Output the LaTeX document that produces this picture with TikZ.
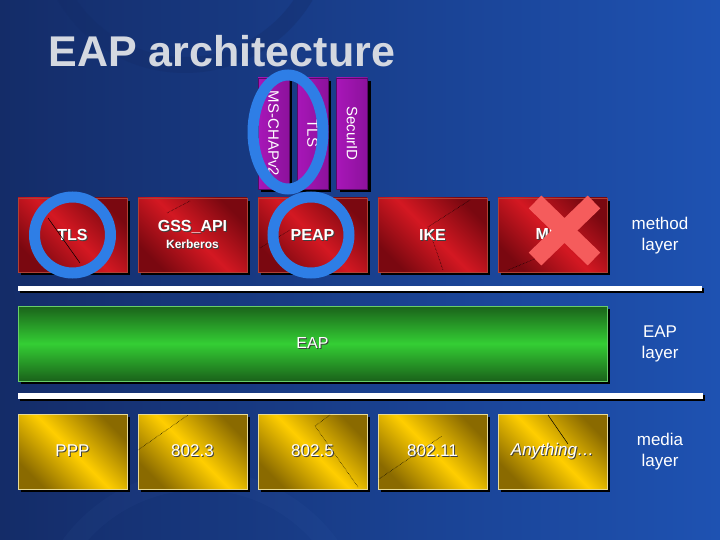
\documentclass[tikz,border=0pt]{standalone}
\usepackage{fontspec}
\setmainfont{Liberation Sans}
\usetikzlibrary{shadows}

\definecolor{bgdark}{RGB}{20,44,104}
\definecolor{bglight}{RGB}{30,82,178}
\definecolor{reddark}{RGB}{122,8,16}
\definecolor{redlight}{RGB}{212,24,34}
\definecolor{redline}{RGB}{176,64,52}
\definecolor{yellowdark}{RGB}{138,106,0}
\definecolor{yellowlight}{RGB}{255,206,0}
\definecolor{yellowline}{RGB}{232,218,150}
\definecolor{greendark}{RGB}{26,98,26}
\definecolor{greenlight}{RGB}{52,206,52}
\definecolor{greenline}{RGB}{104,206,104}
\definecolor{purplelight}{RGB}{168,22,184}
\definecolor{purpledark}{RGB}{88,10,104}
\definecolor{ringblue}{RGB}{46,126,230}
\definecolor{crossred}{RGB}{245,92,92}
\definecolor{titlegray}{RGB}{212,216,224}

\newcommand\shtxt[1]{\rlap{\hspace{1pt}\raisebox{-1pt}{\color{black!75}#1}}#1}

\begin{document}
\begin{tikzpicture}[x=1pt, y=-1pt,
    box/.style={rectangle, inner sep=0pt, text=white, align=center,
        general shadow={fill=black, shadow xshift=3pt, shadow yshift=-3pt}},
    methodbox/.style={box, minimum width=109pt, minimum height=74pt, draw=redline,
        top color=reddark, bottom color=reddark, middle color=redlight, shading angle=-45,
        font=\bfseries\fontsize{16}{19}\selectfont},
    mediabox/.style={box, minimum width=109pt, minimum height=75pt, draw=yellowline,
        top color=yellowdark, bottom color=yellowdark, middle color=yellowlight, shading angle=-45,
        font=\fontsize{17}{20}\selectfont},
    stackbox/.style={box, minimum width=31pt, minimum height=111pt, draw=purpledark,
        left color=purplelight, right color=purplelight!65!purpledark,
        font=\fontsize{15}{18}\selectfont},
    layerlabel/.style={text=white, align=center, font=\fontsize{17}{21}\selectfont},
    ring/.style={draw=ringblue, line width=11pt},
    scratch/.style={black, line width=0.5pt, densely dotted},
]
    \useasboundingbox (0,0) rectangle (720,540);
    \fill[left color=bgdark, right color=bglight] (0,0) rectangle (720,540);
    \draw[bgdark, opacity=0.35, line width=16pt] (185,-75) circle (140);
    \fill[bgdark, opacity=0.5] (-90,330) circle (110);
    \draw[bglight!80!white, opacity=0.06, line width=20pt] (200,640) circle (160);

    \node[anchor=base west, text=titlegray, font=\bfseries\fontsize{43}{50}\selectfont] (title) at (45,67) {EAP architecture};

    % inner methods
    \node[stackbox] (mschap) at (273.5,133.5) {\rotatebox{-90}{MS-CHAPv2}};
    \node[stackbox] (innertls) at (312.5,133.5) {\rotatebox{-90}{TLS}};
    \node[stackbox] (securid) at (352,133.5) {\rotatebox{-90}{SecurID}};

    % method layer
    \node[methodbox] (tls) at (72.5,235) {\shtxt{TLS}};
    \node[methodbox] (gss) at (192.5,235) {\shtxt{GSS\_API}\\[-2pt]{\fontsize{12}{14}\selectfont\shtxt{Kerberos}}};
    \node[methodbox] (peap) at (312.5,235) {\shtxt{PEAP}};
    \node[methodbox] (ike) at (432.5,235) {\shtxt{IKE}};
    \node[methodbox] (md5) at (552.5,235) {\shtxt{MD5}};
    \draw[scratch, solid] (48,218) -- (80,263);
    \draw[scratch] (167,213) -- (190,201);
    \draw[scratch] (260,248) -- (290,230);
    \draw[scratch] (470,200) -- (428,227) -- (443,270);
    \draw[scratch] (508,270) -- (537,258);

    % separators
    \fill[black] (20,288) rectangle (704,293);
    \fill[white] (18,286) rectangle (702,291);
    \fill[black] (20,395) rectangle (705,401);
    \fill[white] (18,393) rectangle (703,399);

    % EAP layer
    \node[box, minimum width=589pt, minimum height=75pt, draw=greenline,
        top color=greendark, bottom color=greendark, middle color=greenlight,
        font=\fontsize{16}{19}\selectfont] (eap) at (312.5,343.5) {\shtxt{EAP}};

    % media layer
    \node[mediabox] (ppp) at (72.5,451.5) {\shtxt{PPP}};
    \node[mediabox] (ieee3) at (192.5,451.5) {\shtxt{802.3}};
    \node[mediabox] (ieee5) at (312.5,451.5) {\shtxt{802.5}};
    \node[mediabox] (ieee11) at (432.5,451.5) {\shtxt{802.11}};
    \node[mediabox] (anything) at (552.5,451.5) {\shtxt{\itshape Anything…}};
    \draw[scratch] (138,450) -- (188,415);
    \draw[scratch] (330,415) -- (315,426) -- (358,487);
    \draw[scratch] (379,479) -- (442,436);
    \draw[scratch, solid] (548,415) -- (568,444);

    \node[layerlabel] (methodlbl) at (660,236) {method\\layer};
    \node[layerlabel] (eaplbl) at (660,344) {EAP\\layer};
    \node[layerlabel] (medialbl) at (660,452) {media\\layer};

    % highlights
    \draw[ring] (tls) circle (38);
    \draw[ring] (peap.center) ++(-1.5,0) circle (38);
    \draw[ring] (288,132) ellipse (35 and 57);
    \draw[crossred, line width=18pt] (535,202) -- (594,259);
    \draw[crossred, line width=18pt] (594,202) -- (535,259);
\end{tikzpicture}
\end{document}
